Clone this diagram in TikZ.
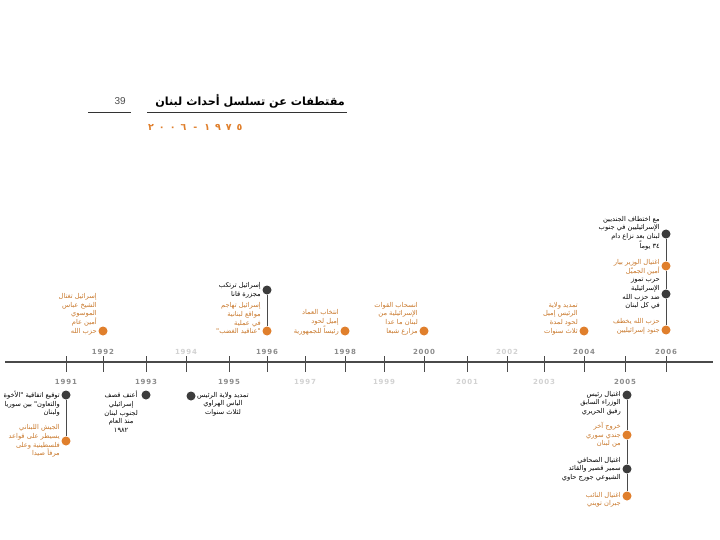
\documentclass[tikz,border=0pt]{standalone}
\usepackage{fontspec}
\setmainfont{DejaVu Sans}
\newfontfamily\arabicfont[Script=Arabic]{DejaVu Sans}
\newfontfamily\latinsans{Liberation Sans}
\newfontfamily\yearfont[LetterSpace=12]{DejaVu Sans}
\TeXXeTstate=1
\newcommand{\ar}[1]{\beginR #1\endR}
\newcommand{\dg}{\hspace{5pt}}
\definecolor{evorange}{HTML}{E07F2C}
\definecolor{txorange}{HTML}{C9782B}
\definecolor{evdark}{HTML}{3C3C3C}
\definecolor{yeardark}{HTML}{8C8C8C}
\definecolor{yearlight}{HTML}{D2D2D2}
\definecolor{axis}{HTML}{4A4A4A}
\tikzset{
  dotO/.style={circle, fill=evorange, inner sep=0pt, minimum size=9pt},
  dotD/.style={circle, fill=evdark, inner sep=0pt, minimum size=9pt},
  evtxt/.style={font=\arabicfont\fontsize{6.7}{8.6}\selectfont, align=right, inner sep=0pt},
  txtO/.style={evtxt, text=txorange},
  txtD/.style={evtxt, text=black},
  yr/.style={font=\yearfont\bfseries\fontsize{7}{8}\selectfont, inner sep=0pt},
  yrD/.style={yr, text=yeardark},
  yrL/.style={yr, text=yearlight},
  yeartick/.style={draw=axis, line width=1pt},
  conn/.style={draw=axis, line width=1pt},
  hdrline/.style={draw=black!80, line width=0.7pt}
}
\begin{document}
\begin{tikzpicture}[x=1pt,y=-1pt]
\useasboundingbox (0,0) rectangle (720,540);
\fill[white] (0,0) rectangle (720,540);

% header
\node[font=\latinsans\fontsize{10}{12}\selectfont, text=black!70, anchor=east, inner sep=0pt] (pg) at (126,101) {39};
\coordinate (h1a) at (88,112); \coordinate (h1b) at (131,112);
\coordinate (h2a) at (147,112); \coordinate (h2b) at (347,112);
\draw[hdrline] (h1a) -- (h1b);
\draw[hdrline] (h2a) -- (h2b);
\node[font=\arabicfont\bfseries\fontsize{11.2}{13}\selectfont, anchor=east, inner sep=0pt] (title) at (345,101) {\ar{مقتطفات عن تسلسل أحداث لبنان}};
\node[font=\arabicfont\bfseries\fontsize{9.5}{10}\selectfont, text=evorange, anchor=west, inner sep=0pt] (sub) at (148,127) {٢\dg٠\dg٠\dg٦\dg\hspace{2pt}-\hspace{2pt}\dg١\dg٩\dg٧\dg٥};

% timeline
\coordinate (axL) at (5,362); \coordinate (axR) at (713,362);
\draw[draw=axis, line width=2.7pt] (axL) -- (axR);
\foreach \yy/\xx/\st/\pos in {1991/66/yrD/382,1992/103/yrD/352,1993/146/yrD/382,1994/186/yrL/352,1995/229/yrD/382,1996/267/yrD/352,1997/305/yrL/382,1998/345/yrD/352,1999/384/yrL/382,2000/424/yrD/352,2001/467/yrL/382,2002/507/yrL/352,2003/544/yrL/382,2004/584/yrD/352,2005/625/yrD/382,2006/666/yrD/352}{
  \coordinate (t\yy) at (\xx,362);
  \draw[yeartick] (t\yy) ++(0,-6) -- ++(0,16);
  \node[\st] (y\yy) at (\xx,\pos) {\yy};
}

% ---- events above the line ----
% 1992
\node[dotO] (e1992) at (103,331) {};
\node[txtO, anchor=south east] (x1992) at ([shift={(-6,4)}]e1992.center) {\ar{إسرائيل تغتال}\\\ar{الشيخ عباس}\\\ar{الموسوي}\\\ar{أمين عام}\\\ar{حزب الله}};
% 1996
\node[dotD] (e1996a) at (267,290) {};
\node[dotO] (e1996b) at (267,331) {};
\draw[conn] (e1996a) -- (e1996b);
\node[txtD, anchor=east] (x1996a) at ([shift={(-6,0)}]e1996a.center) {\ar{إسرائيل ترتكب}\\\ar{مجزرة قانا}};
\node[txtO, anchor=south east] (x1996b) at ([shift={(-6,4)}]e1996b.center) {\ar{إسرائيل تهاجم}\\\ar{مواقع لبنانية}\\\ar{في عملية}\\\ar{"عناقيد الغضب"}};
% 1998
\node[dotO] (e1998) at (345,331) {};
\node[txtO, anchor=south east] (x1998) at ([shift={(-6,4)}]e1998.center) {\ar{انتخاب العماد}\\\ar{إميل لحود}\\\ar{رئيساً للجمهورية}};
% 2000
\node[dotO] (e2000) at (424,331) {};
\node[txtO, anchor=south east] (x2000) at ([shift={(-6,4)}]e2000.center) {\ar{انسحاب القوات}\\\ar{الإسرائيلية من}\\\ar{لبنان ما عدا}\\\ar{مزارع شبعا}};
% 2004
\node[dotO] (e2004) at (584,331) {};
\node[txtO, anchor=south east] (x2004) at ([shift={(-6,4)}]e2004.center) {\ar{تمديد ولاية}\\\ar{الرئيس إميل}\\\ar{لحود لمدة}\\\ar{ثلاث سنوات}};
% 2006 stack
\node[dotD] (e2006a) at (666,234) {};
\node[dotO] (e2006b) at (666,266) {};
\node[dotD] (e2006c) at (666,294) {};
\node[dotO] (e2006d) at (666,330) {};
\draw[conn] (e2006a) -- (e2006b) -- (e2006c) -- (e2006d);
\node[txtD, anchor=east] (x2006a) at ([shift={(-6,-1)}]e2006a.center) {\ar{مع اختطاف الجنديين}\\\ar{الإسرائيليين في جنوب}\\\ar{لبنان بعد نزاع دام}\\\ar{٣٤ يوماً}};
\node[txtO, anchor=east] (x2006b) at ([shift={(-6,1)}]e2006b.center) {\ar{اغتيال الوزير بيار}\\\ar{أمين الجميّل}};
\node[txtD, anchor=east] (x2006c) at ([shift={(-6,0)}]e2006c.center) {\ar{حرب تموز}\\\ar{الإسرائيلية}\\\ar{ضد حزب الله}\\\ar{في كل لبنان}};
\node[txtO, anchor=south east] (x2006d) at ([shift={(-6,4)}]e2006d.center) {\ar{حزب الله يخطف}\\\ar{جنود إسرائيليين}};

% ---- events below the line ----
% 1991
\node[dotD] (e1991a) at (66,395) {};
\node[dotO] (e1991b) at (66,441) {};
\draw[conn] (e1991a) -- (e1991b);
\node[txtD, anchor=north east] (x1991a) at ([shift={(-6,-4)}]e1991a.center) {\ar{توقيع اتفاقية "الأخوة}\\\ar{والتعاون" بين سوريا}\\\ar{ولبنان}};
\node[txtO, anchor=east] (x1991b) at ([shift={(-6,0)}]e1991b.center) {\ar{الجيش اللبناني}\\\ar{يسيطر على قواعد}\\\ar{فلسطينية وعلى}\\\ar{مرفأ صيدا}};
% 1993
\node[dotD] (e1993) at (146,395) {};
\node[txtD, anchor=north east, align=center] (x1993) at ([shift={(-8,-4)}]e1993.center) {\ar{أعنف قصف}\\\ar{إسرائيلي}\\\ar{لجنوب لبنان}\\\ar{منذ العام}\\\ar{١٩٨٢}};
% 1995
\node[dotD] (e1995) at (191,396) {};
\node[txtD, anchor=north west, align=center] (x1995) at ([shift={(6,-4)}]e1995.center) {\ar{تمديد ولاية الرئيس}\\\ar{الياس الهراوي}\\\ar{لثلاث سنوات}};
% 2005 stack
\node[dotD] (e2005a) at (627,395) {};
\node[dotO] (e2005b) at (627,435) {};
\node[dotD] (e2005c) at (627,469) {};
\node[dotO] (e2005d) at (627,496) {};
\draw[conn] (e2005a) -- (e2005b) -- (e2005c) -- (e2005d);
\node[txtD, anchor=north east] (x2005a) at ([shift={(-6,-4)}]e2005a.center) {\ar{اغتيال رئيس}\\\ar{الوزراء السابق}\\\ar{رفيق الحريري}};
\node[txtO, anchor=east] (x2005b) at ([shift={(-6,0)}]e2005b.center) {\ar{خروج آخر}\\\ar{جندي سوري}\\\ar{من لبنان}};
\node[txtD, anchor=east] (x2005c) at ([shift={(-6,0)}]e2005c.center) {\ar{اغتيال الصحافي}\\\ar{سمير قصير والقائد}\\\ar{الشيوعي جورج حاوي}};
\node[txtO, anchor=north east] (x2005d) at ([shift={(-6,-4)}]e2005d.center) {\ar{اغتيال النائب}\\\ar{جبران تويني}};
\end{tikzpicture}
\end{document}
